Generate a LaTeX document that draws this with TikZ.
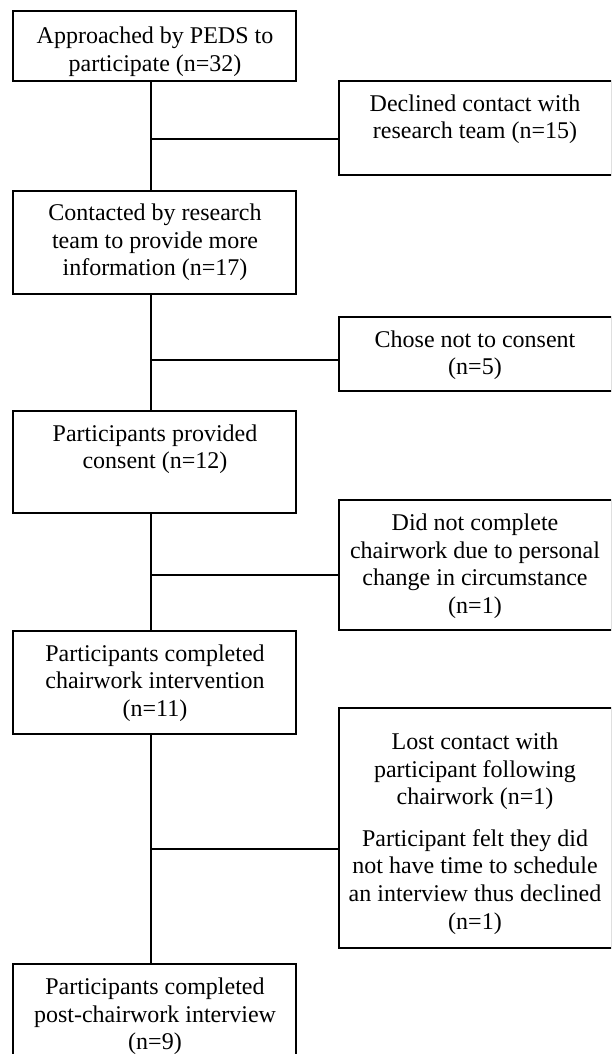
\documentclass[tikz,border=0pt]{standalone}
\usepackage{fontspec}
\setmainfont{Liberation Serif}
\usetikzlibrary{fit}
\begin{document}
\begin{tikzpicture}[x=0.5pt,y=-0.5pt,
  box/.style={draw, line width=0.6pt, inner sep=0pt, rectangle},
  txt/.style={anchor=north, align=center, inner sep=0pt,
    font=\fontsize{12}{13.8}\selectfont, execute at begin node={\strut}},
  link/.style={draw, line width=0.6pt}]
\useasboundingbox (0,0) rectangle (611,1054);
\clip (0,0) rectangle (611,1054);
% boxes
\node[box, fit={(13,11) (296,81)}] (b1) {};
\node[box, fit={(339,81) (612,175)}] (r1) {};
\node[box, fit={(13,191) (296,294)}] (b2) {};
\node[box, fit={(339,317) (612,391)}] (r2) {};
\node[box, fit={(13,411) (296,513)}] (b3) {};
\node[box, fit={(339,500) (612,630)}] (r3) {};
\node[box, fit={(13,631) (296,734)}] (b4) {};
\node[box, fit={(339,708) (612,948)}] (r4) {};
\node[box, fit={(13,964) (296,1080)}] (b5) {};
% texts
\node[txt] (t1) at (155,26.5) {Approached by PEDS to\\participate (n=32)};
\node[txt] (tr1) at (475,94) {Declined contact with\\research team (n=15)};
\node[txt] (t2) at (155,203.5) {Contacted by research\\team to provide more\\information (n=17)};
\node[txt] (tr2) at (475,330) {Chose not to consent\\(n=5)};
\node[txt] (t3) at (155,424) {Participants provided\\consent (n=12)};
\node[txt] (tr3) at (475,513.5) {Did not complete\\chairwork due to personal\\change in circumstance\\(n=1)};
\node[txt] (t4) at (155,644) {Participants completed\\chairwork intervention\\(n=11)};
\node[txt] (tr4) at (475,732.5) {Lost contact with\\participant following\\chairwork (n=1)\\[7pt]Participant felt they did\\not have time to schedule\\an interview thus declined\\(n=1)};
\node[txt] (t5) at (155,977.5) {Participants completed\\post-chairwork interview\\(n=9)};
% spine
\coordinate (sp) at (151,0);
\draw[link] (b1.south -| sp) -- (b2.north -| sp);
\draw[link] (b2.south -| sp) -- (b3.north -| sp);
\draw[link] (b3.south -| sp) -- (b4.north -| sp);
\draw[link] (b4.south -| sp) -- (b5.north -| sp);
% branches
\coordinate (j1) at (151,139);
\coordinate (j2) at (151,360);
\coordinate (j3) at (151,575);
\coordinate (j4) at (151,849);
\draw[link] (j1) -- (j1 -| r1.west);
\draw[link] (j2) -- (j2 -| r2.west);
\draw[link] (j3) -- (j3 -| r3.west);
\draw[link] (j4) -- (j4 -| r4.west);
\end{tikzpicture}
\end{document}
